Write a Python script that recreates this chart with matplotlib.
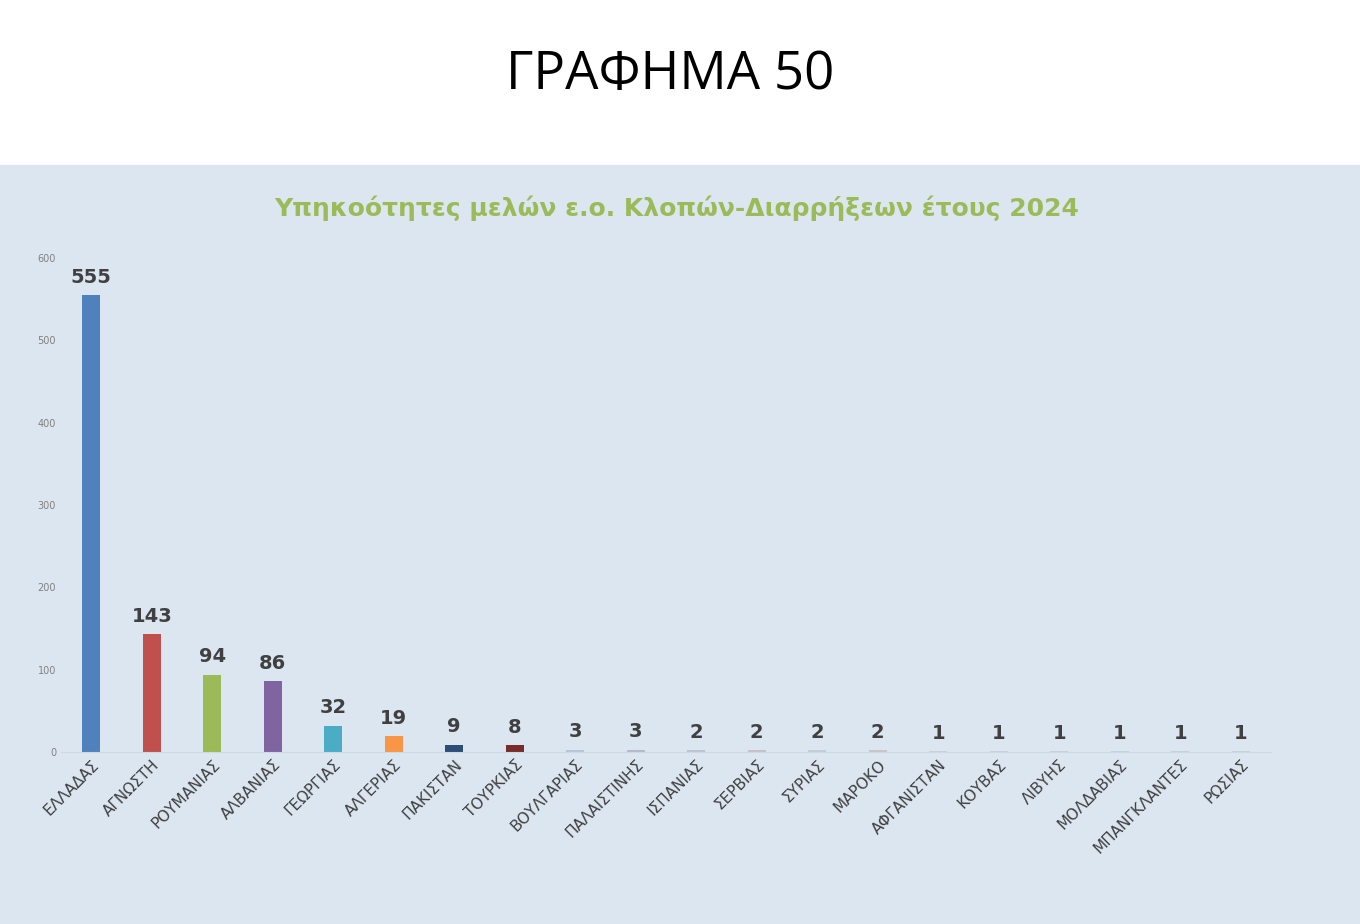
import matplotlib.pyplot as plt
from matplotlib.patches import Rectangle

countries = ["ΕΛΛΑΔΑΣ", "ΑΓΝΩΣΤΗ", "ΡΟΥΜΑΝΙΑΣ", "ΑΛΒΑΝΙΑΣ", "ΓΕΩΡΓΙΑΣ", "ΑΛΓΕΡΙΑΣ",
             "ΠΑΚΙΣΤΑΝ", "ΤΟΥΡΚΙΑΣ", "ΒΟΥΛΓΑΡΙΑΣ", "ΠΑΛΑΙΣΤΙΝΗΣ", "ΙΣΠΑΝΙΑΣ", "ΣΕΡΒΙΑΣ",
             "ΣΥΡΙΑΣ", "ΜΑΡΟΚΟ", "ΑΦΓΑΝΙΣΤΑΝ", "ΚΟΥΒΑΣ", "ΛΙΒΥΗΣ", "ΜΟΛΔΑΒΙΑΣ",
             "ΜΠΑΝΓΚΛΑΝΤΕΣ", "ΡΩΣΙΑΣ"]
values = [555, 143, 94, 86, 32, 19, 9, 8, 3, 3, 2, 2, 2, 2, 1, 1, 1, 1, 1, 1]
colors = ["#4f81bd", "#c0504d", "#9bbb59", "#8064a2", "#4bacc6", "#f79646",
          "#2c4d75", "#772c2a", "#b5c4d8", "#b5b9c8", "#b8c4d4", "#c8c0c8",
          "#c4ccd8", "#c8c4cc", "#c8d0dc", "#c8d0dc", "#c8d0dc", "#c8d0dc",
          "#c8d0dc", "#c8d0dc"]

bg = "#dce6f1"
fig = plt.figure(figsize=(13.6, 9.24), dpi=100)
fig.add_artist(Rectangle((0, 0), 1, 1 - 165 / 924, transform=fig.transFigure,
                         color=bg, zorder=-10))
fig.text(670 / 1360, 1 - 75 / 924, "ΓΡΑΦΗΜΑ 50", ha="center", va="center", fontsize=38,
         family="Open Sans")
fig.text(677 / 1360, 1 - 208 / 924, "Υπηκοότητες μελών ε.ο. Κλοπών-Διαρρήξεων έτους 2024",
         ha="center", va="center", fontsize=18, color="#9bbb59", fontweight="bold")

ax = fig.add_axes([61 / 1360, 1 - 752 / 924, 1210 / 1360, 494 / 924])
ax.set_facecolor(bg)
x = range(len(countries))
ax.bar(x, values, width=0.3, color=colors)
for xi, v in zip(x, values):
    ax.text(xi, v + 10, str(v), ha="center", va="bottom", fontsize=14,
            fontweight="bold", color="#404040")
ax.set_xlim(-0.5, 19.5)
ax.set_ylim(0, 600)
ax.set_yticks(range(0, 601, 100))
ax.tick_params(axis="y", labelsize=7, colors="#808080", length=0)
ax.set_xticks(list(x))
ax.set_xticklabels(countries, rotation=45, ha="right", rotation_mode="anchor",
                   fontsize=11, color="#404040")
ax.tick_params(axis="x", length=0)
for s in ["top", "right", "left"]:
    ax.spines[s].set_visible(False)
ax.spines["bottom"].set_color("#d0d8e0")

fig.savefig("out.png", dpi=100)
